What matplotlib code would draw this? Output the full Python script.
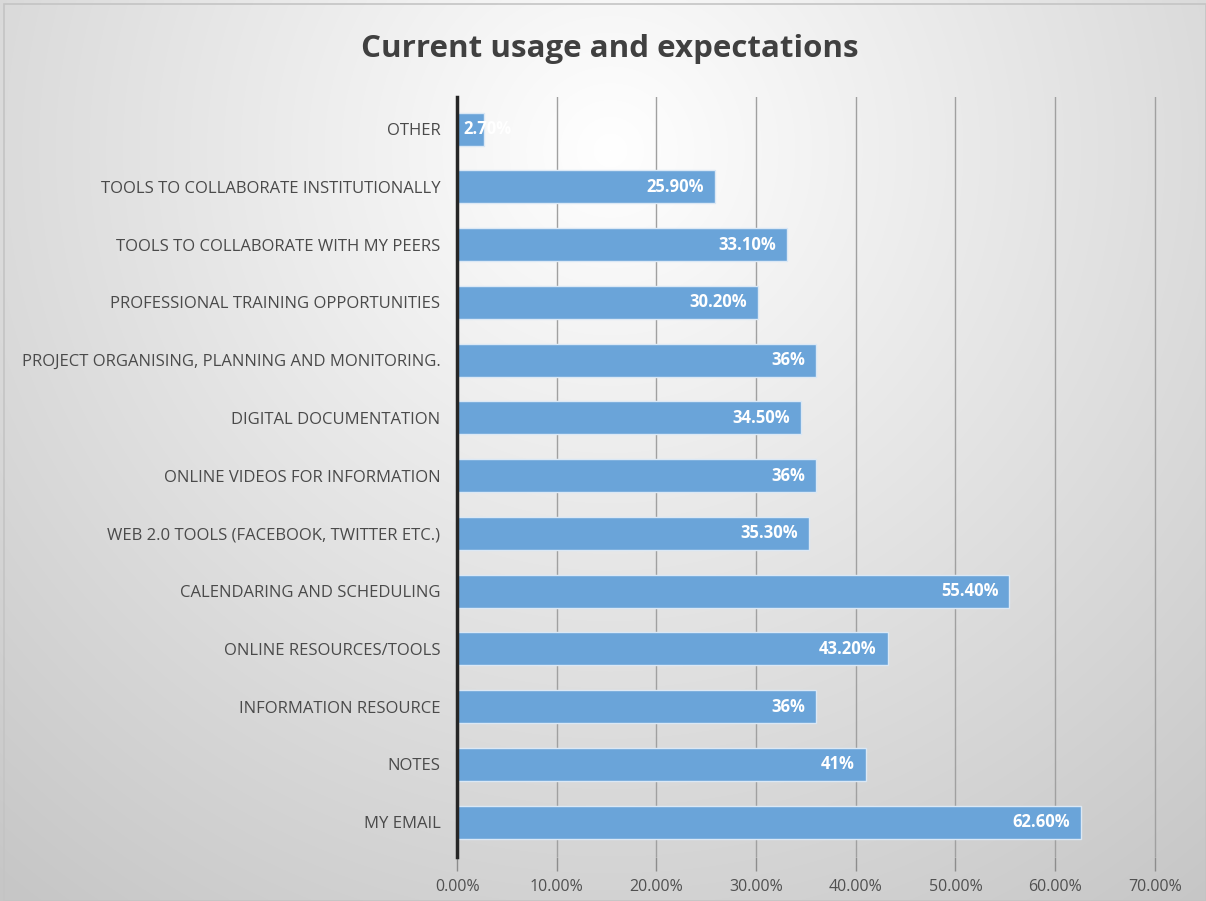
import numpy as np
import matplotlib
matplotlib.use("Agg")
import matplotlib.pyplot as plt
from matplotlib.patches import Rectangle

categories = [
    "MY EMAIL",
    "NOTES",
    "INFORMATION RESOURCE",
    "ONLINE RESOURCES/TOOLS",
    "CALENDARING AND SCHEDULING",
    "WEB 2.0 TOOLS (FACEBOOK, TWITTER ETC.)",
    "ONLINE VIDEOS FOR INFORMATION",
    "DIGITAL DOCUMENTATION",
    "PROJECT ORGANISING, PLANNING AND MONITORING.",
    "PROFESSIONAL TRAINING OPPORTUNITIES",
    "TOOLS TO COLLABORATE WITH MY PEERS",
    "TOOLS TO COLLABORATE INSTITUTIONALLY",
    "OTHER",
]
values = [62.60, 41, 36, 43.20, 55.40, 35.30, 36, 34.50, 36, 30.20, 33.10, 25.90, 2.70]
xticks = [0, 10, 20, 30, 40, 50, 60, 70]

plt.rcParams["font.family"] = ["Open Sans", "DejaVu Sans"]

fig = plt.figure(figsize=(12.06, 9.01), dpi=100)

# radial background, bright near the title and greyer towards the edges
bg = fig.add_axes([0, 0, 1, 1], zorder=-10)
yy, xx = np.mgrid[0:901, 0:1206]
r = np.sqrt(((xx - 610) / 900.0) ** 2 + ((yy - 150) / 900.0) ** 2)
shade = np.clip(1.0 - 0.21 * r, 0.78, 1.0)
bg.imshow(np.dstack([shade, shade, shade]), aspect="auto", interpolation="bilinear")
bg.set_axis_off()
fig.patches.append(Rectangle((0.003, 0.0), 0.997, 0.996, transform=fig.transFigure,
                             fill=False, edgecolor="#c4c4c4", linewidth=1.2))

ax = fig.add_axes([0.379, 0.049, 0.581, 0.843])
ax.set_facecolor("none")

y = np.arange(len(categories))
ax.barh(y, values, height=0.57, color="#6aa4d9", edgecolor="#dbe8f5", linewidth=1.0, zorder=3)

for yi, v in zip(y, values):
    txt = f"{v:.0f}%" if v == int(v) else f"{v:.2f}%"
    if v < 6:
        # too short for the label, start it at the bar's base
        ax.text(0.6, yi, txt, ha="left", va="center", color="white",
                fontsize=12, fontweight="bold", zorder=4)
    else:
        ax.text(v - 1.1, yi, txt, ha="right", va="center", color="white",
                fontsize=12, fontweight="bold", zorder=4)

ax.set_xlim(0, 70.3)
ax.set_ylim(-0.6, len(categories) - 0.45)
ax.set_yticks(y)
ax.set_yticklabels(categories, fontsize=12, color="#4a4a4a")
ax.set_xticks(xticks)
ax.set_xticklabels([f"{t:.2f}%" for t in xticks], fontsize=11.5, color="#505050")
ax.tick_params(axis="y", length=0, pad=12)
ax.tick_params(axis="x", length=10, width=1, color="#8c8c8c", pad=6)
ax.grid(axis="x", color="#a0a0a0", linewidth=1, zorder=0)

for side in ["top", "right", "bottom"]:
    ax.spines[side].set_visible(False)
ax.spines["left"].set_color("#262626")
ax.spines["left"].set_linewidth(2.5)
ax.spines["left"].set_zorder(5)

fig.text(0.506, 0.946, "Current usage and expectations", ha="center", va="center",
         fontsize=22.5, fontweight="bold", color="#404040")

fig.savefig("out.png", dpi=100)
